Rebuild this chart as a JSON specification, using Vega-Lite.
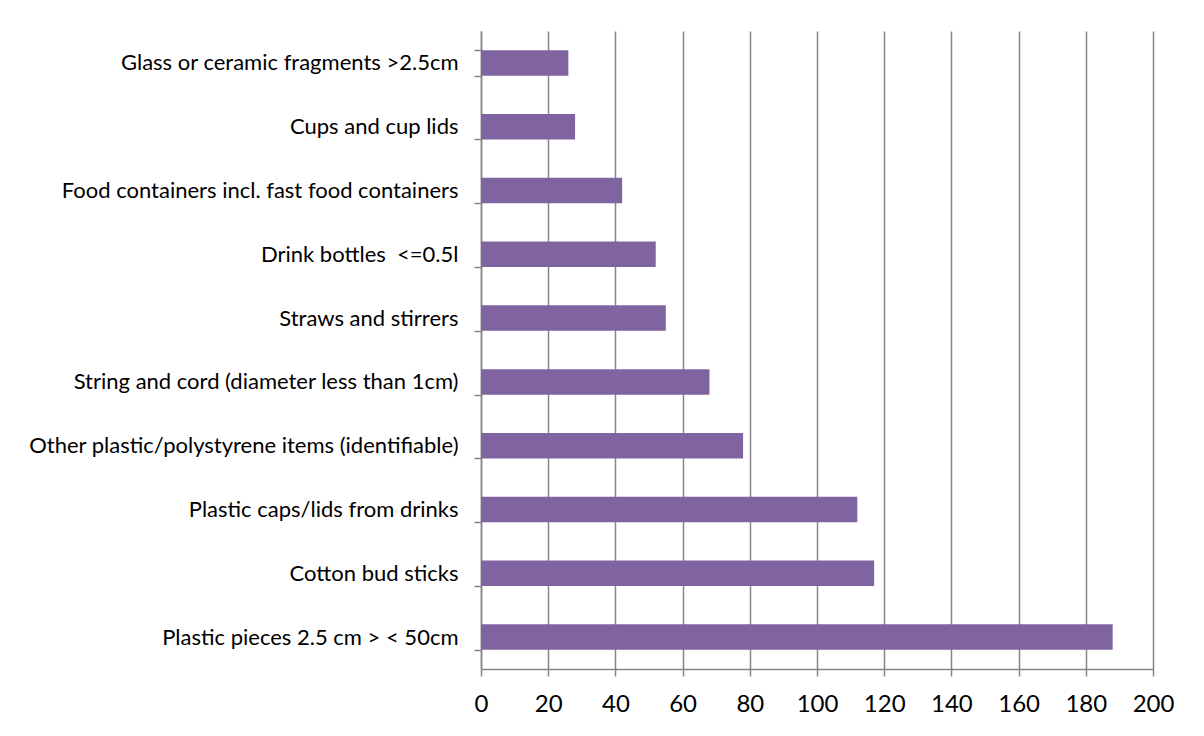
{
  "$schema": "https://vega.github.io/schema/vega-lite/v6.json",
  "autosize": {"type": "none"},
  "width": 672,
  "height": 638,
  "padding": {"left": 481, "top": 31, "right": 51, "bottom": 67},
  "background": "white",
  "config": {"view": {"stroke": null}, "font": "Lato"},
  "data": {"values": [
    {"item": "Glass or ceramic fragments >2.5cm", "count": 26},
    {"item": "Cups and cup lids", "count": 28},
    {"item": "Food containers incl. fast food containers", "count": 42},
    {"item": "Drink bottles \u00a0<=0.5l", "count": 52},
    {"item": "Straws and stirrers", "count": 55},
    {"item": "String and cord (diameter less than 1cm)", "count": 68},
    {"item": "Other plastic/polystyrene items (identifiable)", "count": 78},
    {"item": "Plastic caps/lids from drinks", "count": 112},
    {"item": "Cotton bud sticks", "count": 117},
    {"item": "Plastic pieces 2.5 cm > < 50cm", "count": 188}
  ]},
  "mark": {"type": "bar", "color": "#8064A2"},
  "encoding": {
    "y": {
      "field": "item", "type": "nominal", "sort": null,
      "scale": {"paddingInner": 0.6, "paddingOuter": 0.3},
      "axis": {
        "title": null, "labelFontSize": 22, "labelColor": "#000000", "labelPadding": 16,
        "labelLimit": 600, "domainColor": "#868686", "domainWidth": 1.5,
        "tickColor": "#868686", "tickWidth": 1.5, "tickSize": 7, "tickBand": "extent",
        "grid": false
      }
    },
    "x": {
      "field": "count", "type": "quantitative",
      "scale": {"domain": [0, 200], "nice": false},
      "axis": {
        "title": null, "values": [0,20,40,60,80,100,120,140,160,180,200],
        "labelFontSize": 24, "labelColor": "#000000", "labelPadding": 16, "labelFlush": false,
        "domainColor": "#868686", "domainWidth": 1.5,
        "tickColor": "#868686", "tickWidth": 1.5, "tickSize": 7,
        "grid": true, "gridColor": "#868686", "gridWidth": 1.5
      }
    }
  }
}
